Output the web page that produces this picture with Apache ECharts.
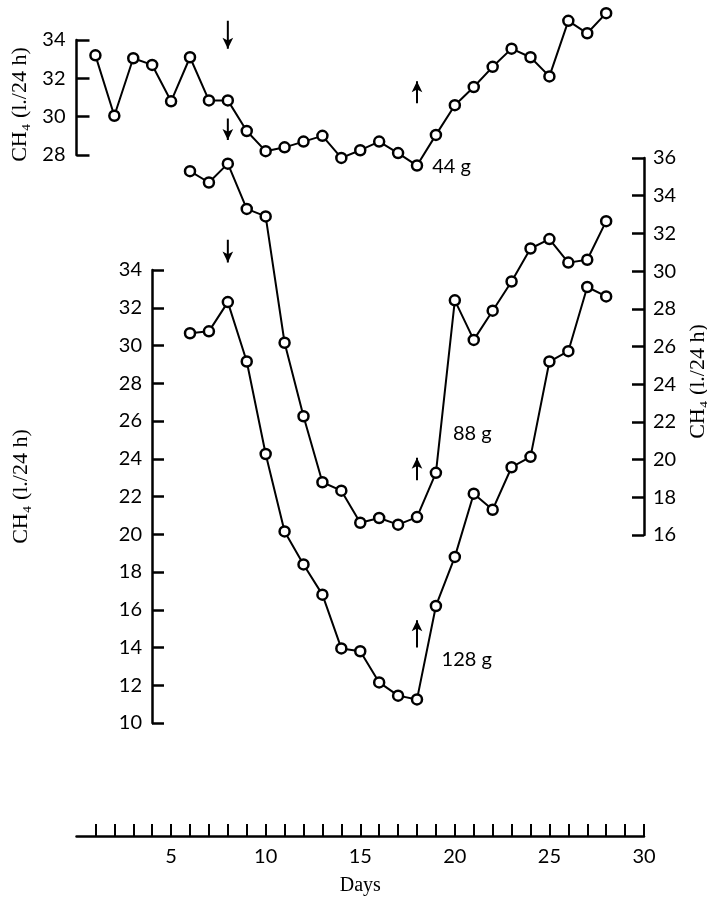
<!DOCTYPE html>
<html>
<head>
<meta charset="utf-8">
<script src="https://cdn.jsdelivr.net/npm/echarts@6/dist/echarts.min.js"></script>
<style>
  html, body { margin: 0; padding: 0; background: #fff; }
  #chart { width: 707px; height: 898px; }
</style>
</head>
<body>
<div id="chart"></div>
<script>
// days and CH4 output (l./24 h) for each diet level
const days44 = [1, 2, 3, 4, 5, 6, 7, 8, 9, 10, 11, 12, 13, 14, 15, 16, 17, 18, 19, 20, 21, 22, 23, 24, 25, 26, 27, 28]
const ch4_44 = [33.2, 30.05, 33.05, 32.7, 30.8, 33.1, 30.85, 30.85, 29.25, 28.2, 28.4, 28.7, 29.0, 27.85, 28.25, 28.7, 28.1, 27.45, 29.05, 30.6, 31.55, 32.6, 33.55, 33.1, 32.1, 35.0, 34.35, 35.4]

const days88 = [6, 7, 8, 9, 10, 11, 12, 13, 14, 15, 16, 17, 18, 19, 20, 21, 22, 23, 24, 25, 26, 27, 28]
const ch4_88 = [35.3, 34.7, 35.7, 33.3, 32.9, 26.2, 22.3, 18.8, 18.35, 16.65, 16.9, 16.55, 16.95, 19.3, 28.45, 26.35, 27.9, 29.45, 31.2, 31.7, 30.45, 30.6, 32.65]

const days128 = [6, 7, 8, 9, 10, 11, 12, 13, 14, 15, 16, 17, 18, 19, 20, 21, 22, 23, 24, 25, 26, 27, 28]
const ch4_128 = [30.65, 30.75, 32.3, 29.15, 24.25, 20.15, 18.4, 16.8, 13.95, 13.8, 12.15, 11.45, 11.25, 16.2, 18.8, 22.15, 21.3, 23.55, 24.1, 29.15, 29.7, 33.1, 32.6]

const dayTicks = [1, 2, 3, 4, 5, 6, 7, 8, 9, 10, 11, 12, 13, 14, 15, 16, 17, 18, 19, 20, 21, 22, 23, 24, 25, 26, 27, 28, 29, 30]
const dayLabels = [5, 10, 15, 20, 25, 30]

// arrows: [day, from, to] on each panel's own scale
const arrows44 = [[8, 35.0, 33.55], [18, 30.7, 31.85]]
const arrows88 = [[8, 38.1, 36.95], [18, 18.9, 20.1]]
const arrows128 = [[8, 35.6, 34.4], [18, 14.0, 15.45]]

// curve tags: [text, day, value]
const tag44 = ['44 g', 18.8, 27.4]
const tag88 = ['88 g', 19.9, 21.4]
const tag128 = ['128 g', 19.3, 13.35]

const yName = 'CH\u2084 (l./24 h)'
const sans = 'Lato'
const serif = 'Liberation Serif'

const chart = echarts.init(document.getElementById('chart'))

function pairs(xs, ys) {
  return xs.map((d, i) => [d, ys[i]])
}

function lineSeries(x, y, data) {
  return {
    type: 'line',
    xAxisIndex: x,
    yAxisIndex: y,
    data: data,
    clip: false,
    symbol: 'circle',
    symbolSize: 10,
    showAllSymbol: true,
    lineStyle: { color: '#000', width: 2 },
    itemStyle: { color: '#fff', borderColor: '#000', borderWidth: 2.5 },
    emphasis: { disabled: true },
    z: 3
  }
}

function arrowSeries(x, y, list) {
  let data = []
  list.forEach(a => {
    data.push({ value: [a[0], a[1]], symbol: 'none' })
    data.push({ value: [a[0], a[2]], symbol: 'arrow', symbolRotate: a[2] < a[1] ? 180 : 0 })
    data.push('-')
  })
  return {
    type: 'line',
    xAxisIndex: x,
    yAxisIndex: y,
    data: data,
    clip: false,
    silent: true,
    symbolSize: [8, 11],
    showAllSymbol: true,
    lineStyle: { color: '#000', width: 2 },
    itemStyle: { color: '#000', borderWidth: 0 },
    emphasis: { disabled: true },
    z: 2
  }
}

function tagSeries(x, y, t) {
  return {
    type: 'scatter',
    xAxisIndex: x,
    yAxisIndex: y,
    clip: false,
    silent: true,
    symbolSize: 0,
    data: [[t[1], t[2]]],
    itemStyle: { opacity: 1 },
    label: {
      show: true, position: 'right', distance: 0, formatter: t[0],
      color: '#000', fontFamily: sans, fontSize: 20
    },
    emphasis: { disabled: true }
  }
}

const axisLine = { show: true, onZero: false, lineStyle: { color: '#000', width: 2.5 } }
const yLabel = { color: '#000', fontFamily: sans, fontSize: 20 }
const yNameStyle = { color: '#000', fontFamily: serif, fontSize: 22 }

const hiddenX = (g) => ({ type: 'value', gridIndex: g, min: 0, max: 30, show: false })

chart.setOption({
  animation: false,
  backgroundColor: '#fff',
  grid: [
    { left: 76.5, right: 63, top: 40, height: 115, outerBoundsMode: 'none' },
    { left: 76.5, right: 63, top: 158, height: 377, outerBoundsMode: 'none' },
    { left: 76.5, right: 63, top: 270, height: 453, outerBoundsMode: 'none' }
  ],
  xAxis: [
    hiddenX(0),
    hiddenX(1),
    {
      type: 'value', gridIndex: 2, min: 0, max: 30, position: 'bottom', offset: 113,
      axisLine: axisLine,
      axisTick: { show: true, inside: true, length: 12, customValues: dayTicks, lineStyle: { color: '#000', width: 2 } },
      axisLabel: { customValues: dayLabels, color: '#000', fontFamily: sans, fontSize: 20, margin: 11 },
      splitLine: { show: false },
      name: 'Days', nameLocation: 'middle', nameGap: 40,
      nameTextStyle: { color: '#000', fontFamily: serif, fontSize: 20 }
    }
  ],
  yAxis: [
    {
      type: 'value', gridIndex: 0, position: 'left', min: 28, max: 34, interval: 2,
      axisLine: axisLine,
      axisTick: { show: true, inside: true, length: 13, lineStyle: { color: '#000', width: 2.5 } },
      axisLabel: Object.assign({ margin: 11 }, yLabel),
      splitLine: { show: false },
      name: yName, nameLocation: 'middle', nameGap: 45, nameRotate: 90,
      nameTextStyle: Object.assign({ padding: [0, 14, 0, 0] }, yNameStyle)
    },
    {
      type: 'value', gridIndex: 1, position: 'right', min: 16, max: 36, interval: 2,
      axisLine: axisLine,
      axisTick: { show: true, inside: true, length: 12, lineStyle: { color: '#000', width: 2.5 } },
      axisLabel: Object.assign({ margin: 9 }, yLabel),
      splitLine: { show: false },
      name: yName, nameLocation: 'middle', nameGap: 43, nameRotate: 90,
      nameTextStyle: Object.assign({ padding: [0, 70, 0, 0] }, yNameStyle)
    },
    {
      type: 'value', gridIndex: 2, position: 'left', offset: -75.5, min: 10, max: 34, interval: 2,
      axisLine: axisLine,
      axisTick: { show: true, inside: true, length: 12, lineStyle: { color: '#000', width: 2.5 } },
      axisLabel: Object.assign({ margin: 10 }, yLabel),
      splitLine: { show: false },
      name: yName, nameLocation: 'middle', nameGap: 120, nameRotate: 90,
      nameTextStyle: Object.assign({ padding: [0, 0, 0, 20] }, yNameStyle)
    }
  ],
  series: [
    lineSeries(0, 0, pairs(days44, ch4_44)),
    lineSeries(1, 1, pairs(days88, ch4_88)),
    lineSeries(2, 2, pairs(days128, ch4_128)),
    arrowSeries(0, 0, arrows44),
    arrowSeries(1, 1, arrows88),
    arrowSeries(2, 2, arrows128),
    tagSeries(0, 0, tag44),
    tagSeries(1, 1, tag88),
    tagSeries(2, 2, tag128)
  ]
})
</script>
</body>
</html>
